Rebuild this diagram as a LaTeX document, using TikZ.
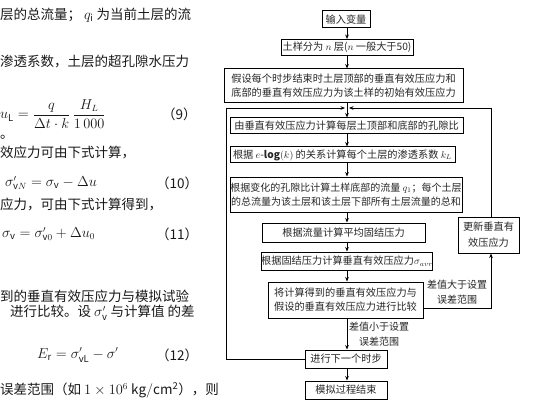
\documentclass[tikz,border=0pt]{standalone}
\usepackage{amsmath}
\usepackage{fontspec}
\setmainfont{Noto Sans CJK SC}
\usetikzlibrary{arrows.meta}
\tikzset{
  fbox/.style={draw=black, line width=1pt, inner sep=0pt, align=center,
    font=\fontsize{10.2}{14}\selectfont, text=black!85},
  arr/.style={line width=0.8pt, -{Stealth[length=4.5pt,width=3.6pt]}},
  lbl/.style={inner sep=0pt, align=center, font=\fontsize{10}{15.5}\selectfont, text=black!85},
  body/.style={inner sep=0pt, anchor=west, font=\fontsize{13.5}{16}\selectfont, text=black!90},
}
\begin{document}
\begin{tikzpicture}[x=1pt,y=-1pt]
\useasboundingbox (0,0) rectangle (539,404);
\fill[white] (0,0) rectangle (539,404);
% ---------- left text column ----------
\node[body] (t1) at (0,15) {层的总流量； $q_{\mathrm{i}}$ 为当前土层的流};
\node[body] (t2) at (0,62) {渗透系数，土层的超孔隙水压力};
\node[body] (e9) at (0,114) {$u_{\mathrm{L}}=\dfrac{q}{\Delta t\cdot k}\,\dfrac{H_L}{1\,000}$};
\node[body] (n9) at (162,114) {（9）};
\node[body] (t3) at (0,137) {。};
\node[body] (t4) at (0,152) {效应力可由下式计算，};
\node[body] (e10) at (5,183) {$\sigma'_{\mathrm{v}N}=\sigma_{\mathrm{v}}-\Delta u$};
\node[body] (n10) at (156,183) {（10）};
\node[body] (t5) at (0,204) {应力，可由下式计算得到，};
\node[body] (e11) at (2,234) {$\sigma_{\mathrm{v}}=\sigma'_{\mathrm{v}0}+\Delta u_0$};
\node[body] (n11) at (156,234) {（11）};
\node[body] (t6) at (0,296) {到的垂直有效压应力与模拟试验};
\node[body] (t7) at (10,313) {进行比较。设 $\sigma'_{\mathrm{v}}$ 与计算值 的差};
\node[body] (e12) at (37,355) {$E_{\mathrm{r}}=\sigma'_{\mathrm{vL}}-\sigma'$};
\node[body] (n12) at (156,355) {（12）};
\node[body] (t8) at (0,390) {误差范围（如 $1\times10^{6}\ \mathrm{kg/cm^{2}}$），则};
% ---------- flowchart ----------
\node[fbox, minimum width=48pt, minimum height=17pt] (b1) at (346,19.5) {输入变量};
\node[fbox, minimum width=132pt, minimum height=16pt] (b2) at (347,47.5) {土样分为 $n$ 层($n$ 一般大于50)};
\node[fbox, minimum width=239pt, minimum height=34pt] (b3) at (343.5,86) {假设每个时步结束时土层顶部的垂直有效压应力和\\底部的垂直有效压应力为该土样的初始有效压应力};
\node[fbox, minimum width=233pt, minimum height=16pt] (b4) at (346.5,126) {由垂直有效压应力计算每层土顶部和底部的孔隙比};
\node[fbox, minimum width=225pt, minimum height=16pt] (b5) at (342.5,155) {根据 $e$-$\mathbf{log}(k)$ 的关系计算每个土层的渗透系数 $k_L$};
\node[fbox, minimum width=232pt, minimum height=35pt, font=\fontsize{10}{14}\selectfont] (b6) at (346,194.5) {根据变化的孔隙比计算土样底部的流量 $q_1$；每个土层\\的总流量为该土层和该土层下部所有土层流量的总和};
\node[fbox, minimum width=163pt, minimum height=19pt] (b7) at (343.5,232.5) {根据流量计算平均固结压力};
\node[fbox, minimum width=170pt, minimum height=18pt] (b8) at (347,261) {根据固结压力计算垂直有效压应力$\sigma_{avr}$};
\node[fbox, minimum width=155pt, minimum height=36pt] (b9) at (345.5,300) {将计算得到的垂直有效压应力与\\假设的垂直有效压应力进行比较};
\node[fbox, minimum width=82pt, minimum height=18pt] (b10) at (346,359) {进行下一个时步};
\node[fbox, minimum width=82pt, minimum height=18pt] (b11) at (346,390) {模拟过程结束};
\node[fbox, minimum width=61pt, minimum height=36pt, font=\fontsize{10.2}{16}\selectfont] (up) at (488.5,235) {更新垂直有\\效压应力};
\node[lbl] (l1) at (457,292) {差值大于设置\\误差范围};
\node[lbl] (l2) at (379,334) {差值小于设置\\误差范围};
% ---------- connectors ----------
\coordinate (m) at (347,0);
\coordinate (L) at (226,108);
\coordinate (Lend) at (345,108);
\coordinate (R) at (491,108);
\coordinate (Rend) at (349,108);
\coordinate (B) at (491,308);
\draw[arr] (b1.south -| m) -- (b2.north -| m);
\draw[arr] (b2.south -| m) -- (b3.north -| m);
\draw[arr] (b3.south -| m) -- (b4.north -| m);
\draw[arr] (b4.south -| m) -- (b5.north -| m);
\draw[arr] (b5.south -| m) -- (b6.north -| m);
\draw[arr] (b6.south -| m) -- (b7.north -| m);
\draw[arr] (b7.south -| m) -- (b8.north -| m);
\draw[arr] (b8.south -| m) -- (b9.north -| m);
\draw[arr] (b9.south -| m) -- (b10.north -| m);
\draw[arr] (b10.south -| m) -- (b11.north -| m);
\draw[arr] (b10.west) -| (L) -- (Lend);
\draw[arr] (up.north -| R) -- (R) -- (Rend);
\draw[arr] (b9.east |- B) -- (B) -- (up.south -| B);
\end{tikzpicture}
\end{document}
